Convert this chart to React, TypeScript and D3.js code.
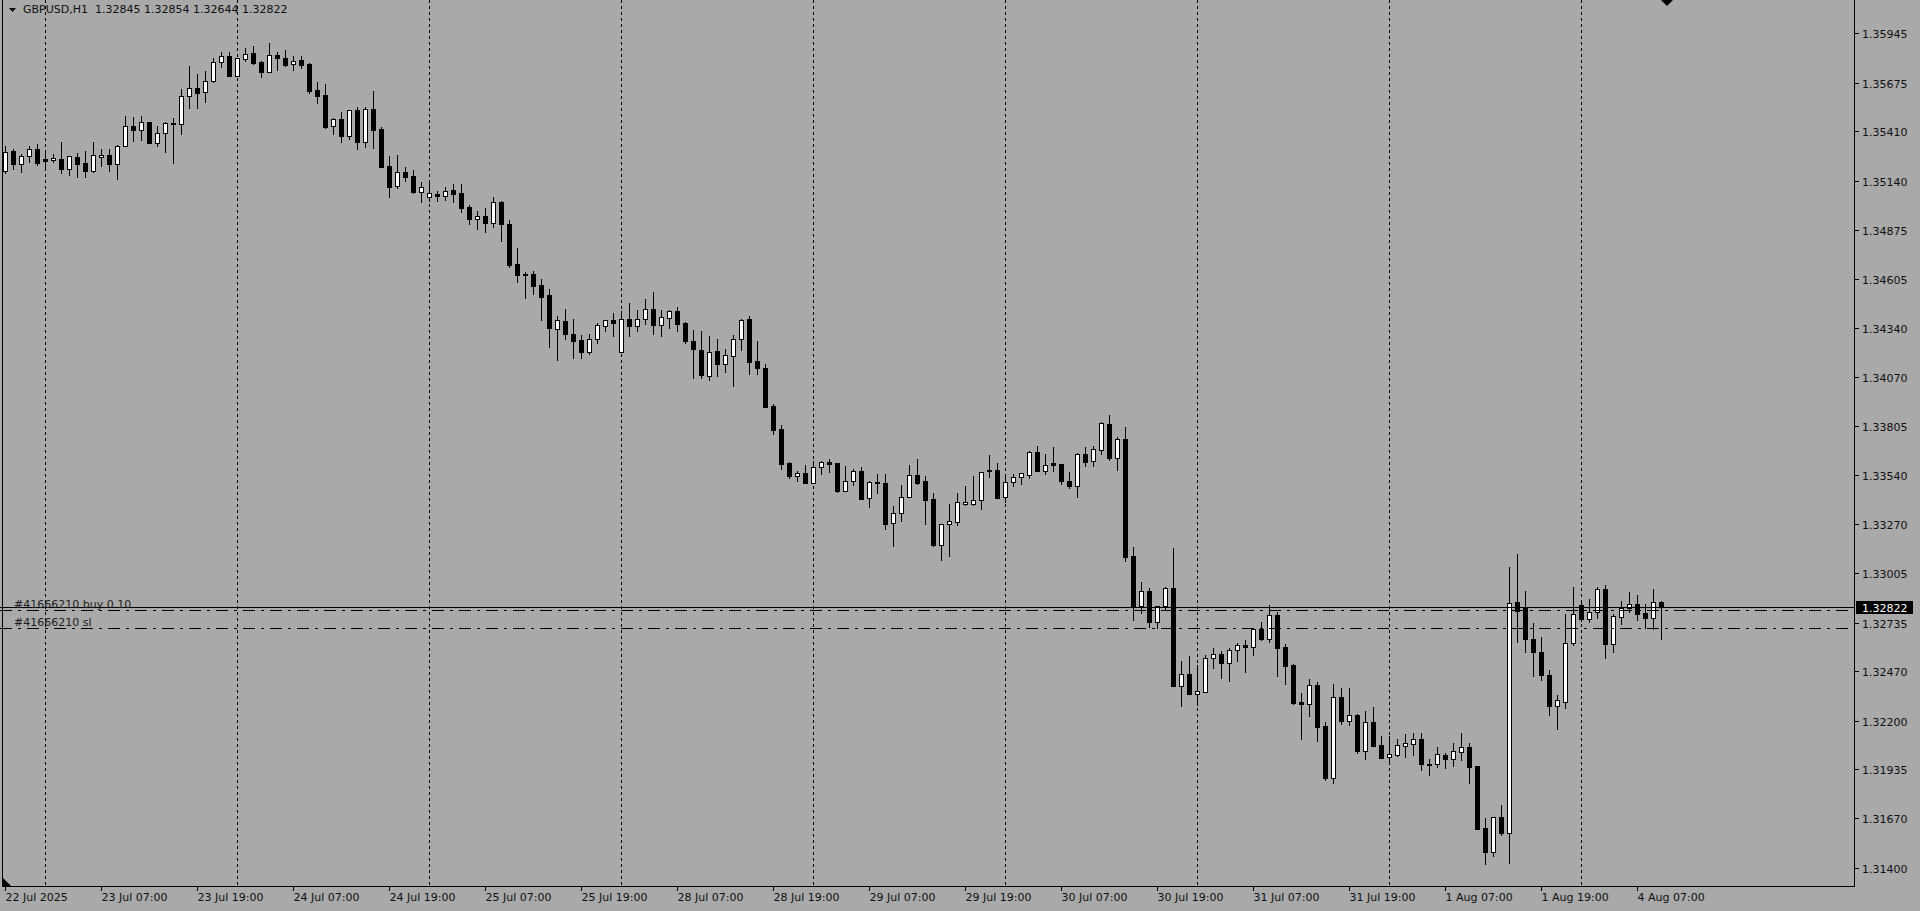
import React, { useEffect, useRef } from 'react';
import * as d3 from 'd3';

// GBPUSD H1 candles, 22 Jul 2025 19:00 .. 4 Aug 2025 10:00 (one value per bar)
const opens = [
  1.35196, 1.35303, 1.35231, 1.35274, 1.35313, 1.35258, 1.35255, 1.35258, 1.35207, 1.35269, 1.35238, 1.35196,
  1.35272, 1.35280, 1.35231, 1.35329, 1.35440, 1.35416, 1.35460, 1.35349, 1.35401, 1.35450, 1.35449, 1.35605,
  1.35645, 1.35623, 1.35686, 1.35787, 1.35821, 1.35714, 1.35803, 1.35836, 1.35787, 1.35735, 1.35826, 1.35808,
  1.35776, 1.35799, 1.35777, 1.35636, 1.35608, 1.35441, 1.35476, 1.35387, 1.35525, 1.35354, 1.35530, 1.35422,
  1.35222, 1.35113, 1.35187, 1.35167, 1.35082, 1.35055, 1.35069, 1.35060, 1.35091, 1.35073, 1.35000, 1.34935,
  1.34949, 1.34913, 1.35026, 1.34906, 1.34688, 1.34633, 1.34633, 1.34572, 1.34519, 1.34335, 1.34377, 1.34306,
  1.34274, 1.34210, 1.34278, 1.34352, 1.34383, 1.34210, 1.34387, 1.34352, 1.34387, 1.34443, 1.34356, 1.34395,
  1.34432, 1.34365, 1.34268, 1.34219, 1.34078, 1.34213, 1.34143, 1.34188, 1.34278, 1.34388, 1.34160, 1.34120,
  1.33914, 1.33789, 1.33602, 1.33535, 1.33549, 1.33497, 1.33580, 1.33608, 1.33602, 1.33453, 1.33508, 1.33562,
  1.33412, 1.33496, 1.33497, 1.33275, 1.33330, 1.33420, 1.33539, 1.33506, 1.33408, 1.33157, 1.33270, 1.33284,
  1.33382, 1.33382, 1.33402, 1.33566, 1.33567, 1.33420, 1.33499, 1.33526, 1.33541, 1.33662, 1.33562, 1.33604,
  1.33598, 1.33506, 1.33480, 1.33653, 1.33616, 1.33675, 1.33816, 1.33633, 1.33733, 1.33097, 1.32825, 1.32907,
  1.32736, 1.32823, 1.32921, 1.32391, 1.32453, 1.32344, 1.32358, 1.32540, 1.32562, 1.32516, 1.32585, 1.32613,
  1.32600, 1.32700, 1.32644, 1.32776, 1.32600, 1.32504, 1.32300, 1.32289, 1.32394, 1.32171, 1.31890, 1.32328,
  1.32201, 1.32231, 1.32037, 1.32195, 1.32068, 1.32001, 1.32013, 1.32064, 1.32075, 1.32100, 1.31964, 1.31962,
  1.32013, 1.31990, 1.32031, 1.32055, 1.31953, 1.31614, 1.31487, 1.31674, 1.31590, 1.32846, 1.32818, 1.32644,
  1.32575, 1.32449, 1.32280, 1.32302, 1.32622, 1.32828, 1.32755, 1.32791, 1.32916, 1.32617, 1.32766, 1.32815,
  1.32834, 1.32788, 1.32762, 1.32845,
];
const highs = [
  1.35331, 1.35313, 1.35285, 1.35331, 1.35342, 1.35292, 1.35287, 1.35351, 1.35274, 1.35292, 1.35303, 1.35351,
  1.35313, 1.35313, 1.35336, 1.35494, 1.35490, 1.35494, 1.35460, 1.35440, 1.35460, 1.35483, 1.35639, 1.35766,
  1.35723, 1.35738, 1.35808, 1.35841, 1.35841, 1.35808, 1.35863, 1.35875, 1.35794, 1.35890, 1.35841, 1.35854,
  1.35821, 1.35821, 1.35781, 1.35681, 1.35668, 1.35485, 1.35514, 1.35525, 1.35541, 1.35541, 1.35630, 1.35432,
  1.35276, 1.35282, 1.35215, 1.35200, 1.35136, 1.35127, 1.35085, 1.35107, 1.35124, 1.35124, 1.35009, 1.34976,
  1.34995, 1.35054, 1.35033, 1.34928, 1.34775, 1.34644, 1.34650, 1.34606, 1.34552, 1.34405, 1.34443, 1.34388,
  1.34301, 1.34306, 1.34368, 1.34383, 1.34419, 1.34432, 1.34477, 1.34437, 1.34497, 1.34534, 1.34437, 1.34437,
  1.34452, 1.34370, 1.34327, 1.34323, 1.34296, 1.34279, 1.34225, 1.34301, 1.34388, 1.34405, 1.34268, 1.34143,
  1.33925, 1.33811, 1.33608, 1.33562, 1.33593, 1.33616, 1.33616, 1.33626, 1.33602, 1.33588, 1.33571, 1.33580,
  1.33506, 1.33544, 1.33544, 1.33370, 1.33484, 1.33593, 1.33626, 1.33533, 1.33439, 1.33270, 1.33380, 1.33442,
  1.33478, 1.33533, 1.33557, 1.33647, 1.33602, 1.33544, 1.33544, 1.33548, 1.33669, 1.33697, 1.33651, 1.33689,
  1.33598, 1.33557, 1.33660, 1.33689, 1.33697, 1.33826, 1.33865, 1.33744, 1.33798, 1.33148, 1.32954, 1.32921,
  1.32823, 1.32930, 1.33139, 1.32525, 1.32552, 1.32503, 1.32558, 1.32598, 1.32580, 1.32598, 1.32622, 1.32640,
  1.32707, 1.32736, 1.32830, 1.32794, 1.32616, 1.32509, 1.32349, 1.32425, 1.32409, 1.32195, 1.32399, 1.32380,
  1.32380, 1.32237, 1.32253, 1.32276, 1.32119, 1.32119, 1.32099, 1.32127, 1.32136, 1.32136, 1.31993, 1.32055,
  1.32026, 1.32077, 1.32136, 1.32077, 1.31953, 1.31669, 1.31677, 1.31741, 1.33035, 1.33107, 1.32906, 1.32731,
  1.32654, 1.32476, 1.32340, 1.32782, 1.32927, 1.32841, 1.32862, 1.32927, 1.32939, 1.32782, 1.32852, 1.32899,
  1.32885, 1.32834, 1.32916, 1.32854,
];
const lows = [
  1.35182, 1.35205, 1.35191, 1.35245, 1.35227, 1.35200, 1.35245, 1.35185, 1.35174, 1.35163, 1.35163, 1.35191,
  1.35222, 1.35196, 1.35153, 1.35329, 1.35360, 1.35363, 1.35349, 1.35332, 1.35299, 1.35236, 1.35394, 1.35536,
  1.35539, 1.35572, 1.35681, 1.35759, 1.35714, 1.35714, 1.35795, 1.35777, 1.35708, 1.35735, 1.35745, 1.35766,
  1.35745, 1.35754, 1.35621, 1.35566, 1.35430, 1.35396, 1.35354, 1.35369, 1.35314, 1.35327, 1.35321, 1.35218,
  1.35054, 1.35102, 1.35142, 1.35073, 1.35027, 1.35033, 1.35033, 1.35036, 1.35027, 1.34973, 1.34904, 1.34880,
  1.34864, 1.34890, 1.34813, 1.34670, 1.34591, 1.34504, 1.34524, 1.34383, 1.34237, 1.34165, 1.34279, 1.34178,
  1.34174, 1.34198, 1.34259, 1.34325, 1.34296, 1.34210, 1.34296, 1.34325, 1.34361, 1.34306, 1.34296, 1.34341,
  1.34325, 1.34259, 1.34067, 1.34067, 1.34056, 1.34078, 1.34100, 1.34023, 1.34219, 1.34089, 1.34089, 1.33911,
  1.33762, 1.33571, 1.33524, 1.33506, 1.33497, 1.33497, 1.33544, 1.33556, 1.33444, 1.33453, 1.33484, 1.33408,
  1.33366, 1.33442, 1.33244, 1.33153, 1.33290, 1.33420, 1.33492, 1.33272, 1.33153, 1.33076, 1.33097, 1.33265,
  1.33375, 1.33375, 1.33353, 1.33529, 1.33415, 1.33393, 1.33480, 1.33492, 1.33524, 1.33562, 1.33545, 1.33562,
  1.33492, 1.33469, 1.33420, 1.33589, 1.33589, 1.33653, 1.33620, 1.33567, 1.33072, 1.32749, 1.32789, 1.32709,
  1.32704, 1.32803, 1.32391, 1.32282, 1.32344, 1.32286, 1.32358, 1.32489, 1.32435, 1.32418, 1.32527, 1.32468,
  1.32558, 1.32640, 1.32630, 1.32445, 1.32399, 1.32291, 1.32100, 1.32227, 1.32091, 1.31877, 1.31859, 1.32182,
  1.32177, 1.32026, 1.31994, 1.32064, 1.31999, 1.31968, 1.32008, 1.32004, 1.32013, 1.31931, 1.31902, 1.31949,
  1.31944, 1.31955, 1.31986, 1.31863, 1.31609, 1.31422, 1.31465, 1.31577, 1.31424, 1.32630, 1.32575, 1.32445,
  1.32422, 1.32231, 1.32155, 1.32269, 1.32613, 1.32744, 1.32736, 1.32762, 1.32542, 1.32574, 1.32727, 1.32792,
  1.32749, 1.32704, 1.32698, 1.32644,
];
const closes = [
  1.35299, 1.35231, 1.35274, 1.35313, 1.35240, 1.35251, 1.35264, 1.35207, 1.35274, 1.35234, 1.35196, 1.35280,
  1.35282, 1.35231, 1.35329, 1.35438, 1.35419, 1.35460, 1.35349, 1.35401, 1.35454, 1.35457, 1.35603, 1.35645,
  1.35618, 1.35683, 1.35787, 1.35821, 1.35714, 1.35808, 1.35830, 1.35781, 1.35735, 1.35826, 1.35808, 1.35772,
  1.35795, 1.35772, 1.35632, 1.35605, 1.35436, 1.35476, 1.35387, 1.35525, 1.35354, 1.35530, 1.35419, 1.35218,
  1.35109, 1.35187, 1.35163, 1.35082, 1.35106, 1.35073, 1.35060, 1.35085, 1.35069, 1.34995, 1.34935, 1.34949,
  1.34913, 1.35024, 1.34904, 1.34684, 1.34630, 1.34628, 1.34570, 1.34510, 1.34341, 1.34383, 1.34305, 1.34270,
  1.34210, 1.34278, 1.34356, 1.34383, 1.34368, 1.34387, 1.34352, 1.34387, 1.34443, 1.34356, 1.34397, 1.34432,
  1.34361, 1.34268, 1.34225, 1.34083, 1.34210, 1.34143, 1.34192, 1.34278, 1.34383, 1.34156, 1.34123, 1.33911,
  1.33784, 1.33598, 1.33535, 1.33549, 1.33497, 1.33580, 1.33608, 1.33600, 1.33451, 1.33508, 1.33562, 1.33408,
  1.33499, 1.33501, 1.33270, 1.33330, 1.33420, 1.33539, 1.33497, 1.33402, 1.33157, 1.33270, 1.33288, 1.33390,
  1.33390, 1.33402, 1.33557, 1.33558, 1.33415, 1.33499, 1.33526, 1.33548, 1.33662, 1.33562, 1.33593, 1.33595,
  1.33508, 1.33480, 1.33653, 1.33611, 1.33678, 1.33820, 1.33633, 1.33733, 1.33094, 1.32821, 1.32908, 1.32740,
  1.32823, 1.32921, 1.32391, 1.32453, 1.32344, 1.32364, 1.32540, 1.32562, 1.32516, 1.32585, 1.32613, 1.32600,
  1.32700, 1.32644, 1.32776, 1.32594, 1.32500, 1.32298, 1.32289, 1.32394, 1.32167, 1.31890, 1.32328, 1.32201,
  1.32230, 1.32035, 1.32195, 1.32064, 1.31999, 1.32017, 1.32068, 1.32078, 1.32103, 1.31962, 1.31958, 1.32017,
  1.31990, 1.32035, 1.32055, 1.31949, 1.31609, 1.31487, 1.31677, 1.31590, 1.32841, 1.32800, 1.32644, 1.32575,
  1.32449, 1.32280, 1.32313, 1.32622, 1.32782, 1.32755, 1.32791, 1.32916, 1.32617, 1.32771, 1.32812, 1.32834,
  1.32782, 1.32762, 1.32845, 1.32822,
];

// time axis: one label every 12 bars
const timeLabels = [
  '22 Jul 2025', '23 Jul 07:00', '23 Jul 19:00', '24 Jul 07:00', '24 Jul 19:00', '25 Jul 07:00',
  '25 Jul 19:00', '28 Jul 07:00', '28 Jul 19:00', '29 Jul 07:00', '29 Jul 19:00', '30 Jul 07:00',
  '30 Jul 19:00', '31 Jul 07:00', '31 Jul 19:00', '1 Aug 07:00', '1 Aug 19:00', '4 Aug 07:00',
];
const priceTicks = [
  1.35945, 1.35675, 1.35410, 1.35140, 1.34875, 1.34605, 1.34340, 1.34070, 1.33805,
  1.33540, 1.33270, 1.33005, 1.32735, 1.32470, 1.32200, 1.31935, 1.31670, 1.31400,
];
const headerText = 'GBPUSD,H1  1.32845 1.32854 1.32644 1.32822';
const bidPrice = 1.32822;
const orderNames = ['#41666210 buy 0.10', '#41666210 sl'];
const orderPrices = [1.32801, 1.32703];

const W = 1920;
const H = 911;
const FRAME_R = 1854;
const FRAME_B = 886;
const BG = '#a9a9a9';
const FONT = '"DejaVu Sans", Verdana, sans-serif';

const App: React.FC = () => {
  const svgRef = useRef<SVGSVGElement>(null);

  useEffect(() => {
    const svg = d3.select(svgRef.current);
    svg.selectAll('*').remove();

    // bar index -> pixel column centre, price -> pixel row
    const x = d3.scaleLinear().domain([0, 1]).range([5.5, 13.5]);
    const y = d3.scaleLinear().domain([1.313, 1.36126]).range([FRAME_B, 0]);
    const py = (p: number) => Math.round(y(p));

    svg.append('rect').attr('width', W).attr('height', H).attr('fill', BG);

    const plot = svg.append('g').attr('shape-rendering', 'crispEdges');

    // vertical dotted grid every 24 bars
    const gridBars = d3.range(5, opens.length, 24);
    plot.selectAll('line.grid')
      .data(gridBars)
      .enter()
      .append('line')
      .attr('class', 'grid')
      .attr('x1', d => x(d))
      .attr('x2', d => x(d))
      .attr('y1', 0)
      .attr('y2', FRAME_B)
      .attr('stroke', '#000')
      .attr('stroke-width', 1)
      .attr('stroke-dasharray', '3,3');

    // candles
    const bars = d3.range(opens.length).map(i => ({
      i, o: opens[i], h: highs[i], l: lows[i], c: closes[i],
    }));
    const g = plot.selectAll('g.bar')
      .data(bars)
      .enter()
      .append('g')
      .attr('class', 'bar');

    g.append('line')
      .attr('x1', d => x(d.i))
      .attr('x2', d => x(d.i))
      .attr('y1', d => py(d.h))
      .attr('y2', d => py(d.l) + 1)
      .attr('stroke', '#000');

    g.filter(d => d.c >= d.o)
      .append('rect')
      .attr('x', d => x(d.i) - 2)
      .attr('y', d => py(d.c) + 0.5)
      .attr('width', 4)
      .attr('height', d => Math.max(1, py(d.o) - py(d.c)))
      .attr('fill', '#fff')
      .attr('stroke', '#000');

    g.filter(d => d.c < d.o)
      .append('rect')
      .attr('x', d => x(d.i) - 2.5)
      .attr('y', d => py(d.o))
      .attr('width', 5)
      .attr('height', d => Math.max(2, py(d.c) - py(d.o) + 1))
      .attr('fill', '#000');

    // bid line
    const bidY = py(bidPrice) + 0.5;
    plot.append('line')
      .attr('x1', 0).attr('x2', FRAME_R)
      .attr('y1', bidY).attr('y2', bidY)
      .attr('stroke', '#000');

    // order / stop loss lines
    orderPrices.forEach((p, k) => {
      const ly = py(p) + 0.5;
      plot.append('line')
        .attr('x1', 0).attr('x2', FRAME_R)
        .attr('y1', ly).attr('y2', ly)
        .attr('stroke', '#000')
        .attr('stroke-dasharray', '12,6,3,6');
      svg.append('text')
        .attr('x', 14)
        .attr('y', ly - 3)
        .attr('font-family', FONT)
        .attr('font-size', 11)
        .attr('fill', '#1e1e1e')
        .text(orderNames[k]);
    });

    // frame
    plot.append('line').attr('x1', 2.5).attr('x2', 2.5).attr('y1', 0).attr('y2', FRAME_B).attr('stroke', '#000');
    plot.append('line').attr('x1', FRAME_R + 0.5).attr('x2', FRAME_R + 0.5).attr('y1', 0).attr('y2', FRAME_B + 1).attr('stroke', '#000');
    plot.append('line').attr('x1', 2).attr('x2', FRAME_R + 1).attr('y1', FRAME_B + 0.5).attr('y2', FRAME_B + 0.5).attr('stroke', '#000');

    // price axis
    const axis = svg.append('g').attr('font-family', FONT).attr('font-size', 11).attr('fill', '#101010');
    priceTicks.forEach(p => {
      const ty = py(p) + 0.5;
      axis.append('line')
        .attr('x1', FRAME_R + 1).attr('x2', FRAME_R + 5)
        .attr('y1', ty).attr('y2', ty)
        .attr('stroke', '#000')
        .attr('shape-rendering', 'crispEdges');
      axis.append('text')
        .attr('x', FRAME_R + 8)
        .attr('y', ty + 4)
        .text(d3.format('.5f')(p));
    });

    // current price tag
    axis.append('rect')
      .attr('x', FRAME_R + 2).attr('y', py(bidPrice) - 6)
      .attr('width', 57).attr('height', 13)
      .attr('fill', '#000');
    axis.append('text')
      .attr('x', FRAME_R + 8).attr('y', py(bidPrice) + 4.5)
      .attr('fill', '#fff')
      .text(d3.format('.5f')(bidPrice));

    // time axis
    timeLabels.forEach((t, k) => {
      const tx = x(k * 12);
      axis.append('line')
        .attr('x1', tx).attr('x2', tx)
        .attr('y1', FRAME_B + 1).attr('y2', FRAME_B + 5)
        .attr('stroke', '#000')
        .attr('shape-rendering', 'crispEdges');
      axis.append('text')
        .attr('x', tx)
        .attr('y', FRAME_B + 15)
        .text(t);
    });

    // header
    svg.append('path').attr('d', 'M9,8 L16,8 L12.5,12 Z').attr('fill', '#000');
    svg.append('text')
      .attr('x', 23).attr('y', 13)
      .attr('font-family', FONT).attr('font-size', 11)
      .attr('fill', '#101010')
      .style('white-space', 'pre')
      .text(headerText);

    // chart-shift marker (top) and scale marker (bottom-left)
    const shiftX = x(opens.length) - 2.5;
    svg.append('path')
      .attr('d', `M${shiftX - 6},0 L${shiftX + 6},0 L${shiftX},6 Z`)
      .attr('fill', '#000');
    svg.append('path')
      .attr('d', `M3,${FRAME_B - 8} L3,${FRAME_B} L11,${FRAME_B} Z`)
      .attr('fill', '#000');
  }, []);

  return (
    <>
      <style>{'body{margin:0;overflow:hidden}'}</style>
      <svg ref={svgRef} width={W} height={H} style={{ display: 'block' }} />
    </>
  );
};

export default App;
